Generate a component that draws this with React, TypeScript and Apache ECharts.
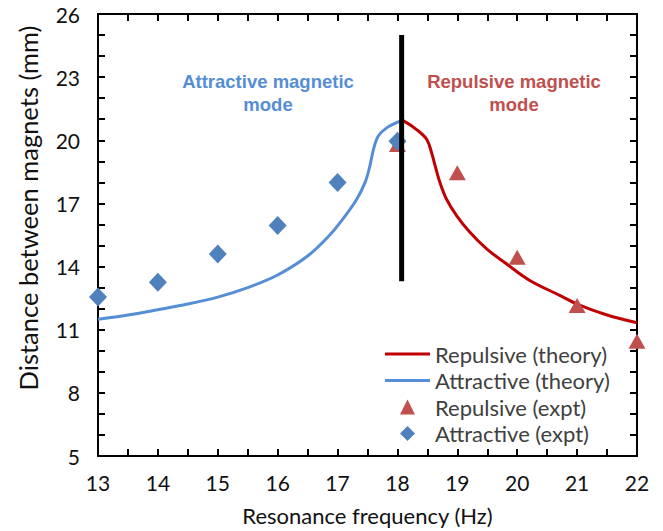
import React, { useEffect, useRef } from "react";
import * as echarts from "echarts";

const attractiveTheory: [number, number][] = [
  [13, 11.5], [13.5, 11.7], [14, 11.95], [14.5, 12.22], [15, 12.55], [15.5, 13.0],
  [16, 13.6], [16.5, 14.5], [16.87, 15.5], [17.1, 16.3], [17.32, 17.2], [17.46, 18.0],
  [17.54, 18.78], [17.6, 19.57], [17.68, 20.2], [17.82, 20.59], [18.05, 20.92],
];

const repulsiveTheory: [number, number][] = [
  [18.05, 20.95], [18.11, 20.91], [18.32, 20.51], [18.49, 20.04], [18.57, 19.41],
  [18.63, 18.78], [18.71, 17.99], [18.82, 17.2], [18.99, 16.41], [19.21, 15.63],
  [19.49, 14.84], [19.82, 14.13], [20.21, 13.34], [20.71, 12.63], [21, 12.22],
  [21.5, 11.7], [22, 11.33],
];

const repulsiveExpt: [number, number][] = [
  [18, 19.8], [19, 18.46], [20, 14.44], [21, 12.15], [22, 10.45],
];

const attractiveExpt: [number, number][] = [
  [13, 12.55], [14, 13.25], [15, 14.6], [16, 15.95], [17, 18.0], [18, 19.96],
];

const boundaryLine: [number, number][] = [
  [18.07, 25], [18.07, 13.3],
];

const seriesNames = [
  "Repulsive (theory)",
  "Attractive (theory)",
  "Repulsive (expt)",
  "Attractive (expt)",
];

const xName = "Resonance frequency (Hz)";
const yName = "Distance between magnets (mm)";
const attractiveLabel = "Attractive magnetic\nmode";
const repulsiveLabel = "Repulsive magnetic\nmode";

const FONT = "Lato";
const LINE_ICON = "path://M0,0H45V3H0Z";
const TRIANGLE_ICON = "path://M0,-1L1,1L-1,1Z";
const DIAMOND_ICON = "path://M0,-1L1,0L0,1L-1,0Z";

export default function App() {
  const ref = useRef<HTMLDivElement>(null);

  useEffect(() => {
    if (!ref.current) return;
    const chart = echarts.init(ref.current, null, { renderer: "svg" });

    const axisLine = { show: true, onZero: false, lineStyle: { color: "#000", width: 2 } };
    const tick = { show: true, inside: true, length: 7, lineStyle: { color: "#000", width: 2 } };

    const xBase = {
      type: "value" as const,
      min: 13,
      max: 22,
      interval: 1,
      axisLine,
      axisTick: tick,
      minorTick: { show: true, splitNumber: 2, length: 7, lineStyle: { color: "#000", width: 2 } },
      splitLine: { show: false },
      minorSplitLine: { show: false },
    };
    const yBase = {
      type: "value" as const,
      min: 5,
      max: 26,
      interval: 3,
      axisLine,
      axisTick: tick,
      minorTick: { show: true, splitNumber: 3, length: 7, lineStyle: { color: "#000", width: 2 } },
      splitLine: { show: false },
      minorSplitLine: { show: false },
    };

    chart.setOption({
      animation: false,
      backgroundColor: "#fff",
      grid: { left: 98, right: 26, top: 14, bottom: 73, containLabel: false },
      xAxis: [
        {
          ...xBase,
          position: "bottom",
          name: xName,
          nameLocation: "middle",
          nameGap: 48,
          nameTextStyle: { fontFamily: FONT, fontSize: 22, color: "#111" },
          axisLabel: { fontFamily: FONT, fontSize: 21, color: "#111", margin: 16 },
        },
        { ...xBase, position: "top", axisLabel: { show: false } },
      ],
      yAxis: [
        {
          ...yBase,
          position: "left",
          name: yName,
          nameLocation: "middle",
          nameGap: 57,
          nameTextStyle: {
            fontFamily: FONT,
            fontSize: 25.5,
            color: "#111",
            padding: [0, 0, 0, 54],
          },
          axisLabel: { fontFamily: FONT, fontSize: 21, color: "#111", margin: 18 },
        },
        { ...yBase, position: "right", axisLabel: { show: false } },
      ],
      legend: {
        data: [
          { name: seriesNames[0], icon: LINE_ICON },
          { name: seriesNames[1], icon: LINE_ICON },
          { name: seriesNames[2], icon: TRIANGLE_ICON },
          { name: seriesNames[3], icon: DIAMOND_ICON },
        ],
        orient: "vertical",
        left: 380,
        top: 336,
        itemWidth: 45,
        itemHeight: 15,
        itemGap: 0.5,
        symbolKeepAspect: true,
        textStyle: { fontFamily: FONT, fontSize: 22, lineHeight: 26, color: "#404040" },
      },
      graphic: [
        {
          type: "text",
          x: 268,
          y: 70,
          style: {
            text: attractiveLabel,
            fontFamily: "Liberation Sans",
            fontWeight: "bold",
            fontSize: 18.5,
            lineHeight: 23,
            fill: "#558ed5",
            align: "center",
            verticalAlign: "top",
          },
        },
        {
          type: "text",
          x: 514,
          y: 70,
          style: {
            text: repulsiveLabel,
            fontFamily: "Liberation Sans",
            fontWeight: "bold",
            fontSize: 18.5,
            lineHeight: 23,
            fill: "#c0504d",
            align: "center",
            verticalAlign: "top",
          },
        },
      ],
      series: [
        {
          name: seriesNames[0],
          type: "line",
          data: repulsiveTheory,
          smooth: 0.35,
          symbol: "none",
          lineStyle: { color: "#c00000", width: 3 },
          itemStyle: { color: "#c00000" },
          z: 2,
        },
        {
          name: seriesNames[1],
          type: "line",
          data: attractiveTheory,
          smooth: 0.35,
          symbol: "none",
          lineStyle: { color: "#558ed5", width: 3 },
          itemStyle: { color: "#558ed5" },
          z: 2,
        },
        {
          name: seriesNames[2],
          type: "scatter",
          data: repulsiveExpt,
          symbol: "triangle",
          symbolSize: [17, 15],
          itemStyle: { color: "#c0504d", opacity: 1 },
          z: 3,
        },
        {
          name: seriesNames[3],
          type: "scatter",
          data: attractiveExpt,
          symbol: "diamond",
          symbolSize: [18, 19],
          itemStyle: { color: "#4f81bd", opacity: 1 },
          z: 3,
        },
        {
          name: "boundary",
          type: "line",
          data: boundaryLine,
          symbol: "none",
          lineStyle: { color: "#000", width: 5 },
          z: 5,
        },
      ],
    });

    return () => chart.dispose();
  }, []);

  return (
    <div
      ref={ref}
      style={{ position: "fixed", left: 0, top: 0, width: 663, height: 531, background: "#fff" }}
    />
  );
}
